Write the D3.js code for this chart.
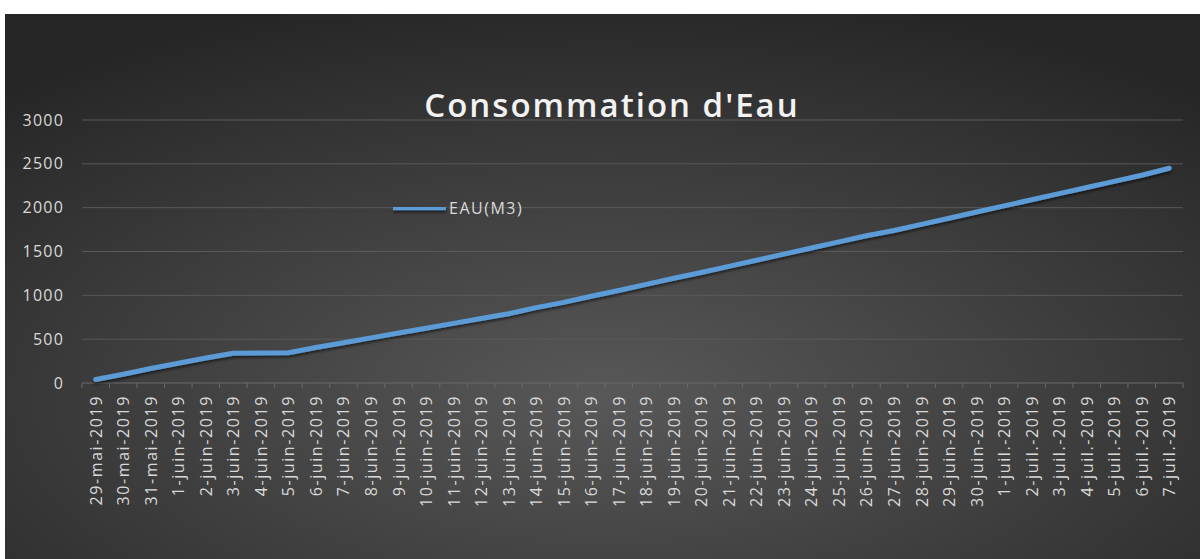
<!DOCTYPE html>
<html>
<head>
<meta charset="utf-8">
<script src="https://cdnjs.cloudflare.com/ajax/libs/d3/7.8.5/d3.min.js"></script>
<style>
  body { margin: 0; background: #fff; }
  svg { display: block; }
</style>
</head>
<body>
<div id="chart"></div>
<script>
let w = 1203,
    h = 559;

// categories (x axis)
let dates = [
  "29-mai-2019", "30-mai-2019", "31-mai-2019",
  "1-juin-2019", "2-juin-2019", "3-juin-2019", "4-juin-2019", "5-juin-2019",
  "6-juin-2019", "7-juin-2019", "8-juin-2019", "9-juin-2019", "10-juin-2019",
  "11-juin-2019", "12-juin-2019", "13-juin-2019", "14-juin-2019", "15-juin-2019",
  "16-juin-2019", "17-juin-2019", "18-juin-2019", "19-juin-2019", "20-juin-2019",
  "21-juin-2019", "22-juin-2019", "23-juin-2019", "24-juin-2019", "25-juin-2019",
  "26-juin-2019", "27-juin-2019", "28-juin-2019", "29-juin-2019", "30-juin-2019",
  "1-juil.-2019", "2-juil.-2019", "3-juil.-2019", "4-juil.-2019", "5-juil.-2019",
  "6-juil.-2019", "7-juil.-2019"
];

// EAU(M3) values
let eau = [
  40, 100, 165, 225, 285, 340, 342, 345, 405, 460,
  515, 570, 625, 680, 735, 790, 860, 920, 990, 1055,
  1125, 1195, 1260, 1330, 1400, 1470, 1540, 1610, 1680, 1740,
  1810, 1880, 1950, 2020, 2090, 2160, 2230, 2300, 2370, 2450
];

let yTicks = [0, 500, 1000, 1500, 2000, 2500, 3000];
let seriesName = "EAU(M3)";
let title = "Consommation d'Eau";

let margin = { top: 120, bottom: 176, left: 82, right: 20 };
let labelFont = "'Open Sans', sans-serif";

let svg = d3.select("#chart")
            .append("svg")
            .attr("width", w)
            .attr("height", h);

let defs = svg.append("defs");

let grad = defs.append("radialGradient")
               .attr("id", "bg")
               .attr("cx", "50%").attr("cy", "70%")
               .attr("r", "75%")
               .attr("fx", "50%").attr("fy", "70%");
grad.append("stop").attr("offset", "0%").attr("stop-color", "#585858");
grad.append("stop").attr("offset", "100%").attr("stop-color", "#262626");

let shadow = defs.append("filter")
                 .attr("id", "shadow")
                 .attr("filterUnits", "userSpaceOnUse")
                 .attr("x", 0).attr("y", 0)
                 .attr("width", w).attr("height", h);
shadow.append("feDropShadow")
      .attr("dx", 0).attr("dy", 2)
      .attr("stdDeviation", 1.5)
      .attr("flood-color", "#000")
      .attr("flood-opacity", 0.6);

// chart background (white margins around it like the original)
svg.append("rect")
   .attr("x", 5)
   .attr("y", 14)
   .attr("width", 1195)
   .attr("height", 545)
   .attr("fill", "url(#bg)");

let x = d3.scaleBand()
          .domain(dates)
          .range([margin.left, w - margin.right]);

let y = d3.scaleLinear()
          .domain([0, 3000])
          .range([h - margin.bottom, margin.top]);

// gridlines
svg.append("g")
   .selectAll("line")
   .data(yTicks.filter(d => d > 0))
   .enter()
   .append("line")
   .attr("x1", margin.left)
   .attr("x2", w - margin.right)
   .attr("y1", d => y(d))
   .attr("y2", d => y(d))
   .attr("stroke", "#5a5a5a")
   .attr("stroke-width", 1);

// y axis labels
let yAxis = d3.axisLeft(y)
              .tickValues(yTicks)
              .tickFormat(d3.format("d"))
              .tickSize(0)
              .tickPadding(18);

svg.append("g")
   .attr("transform", "translate(" + margin.left + ",0)")
   .call(yAxis)
   .call(g => g.select(".domain").remove())
   .selectAll("text")
   .attr("fill", "#d9d9d9")
   .style("font-family", labelFont)
   .style("font-size", "16px")
   .style("letter-spacing", "1.2px");

// x axis line + tick marks between categories
svg.append("line")
   .attr("x1", margin.left)
   .attr("x2", w - margin.right)
   .attr("y1", y(0))
   .attr("y2", y(0))
   .attr("stroke", "#6a6a6a")
   .attr("stroke-width", 1);

svg.append("g")
   .selectAll("line")
   .data(dates.concat(["end"]))
   .enter()
   .append("line")
   .attr("x1", (d, i) => margin.left + i * x.step())
   .attr("x2", (d, i) => margin.left + i * x.step())
   .attr("y1", y(0))
   .attr("y2", y(0) + 5)
   .attr("stroke", "#6a6a6a");

// x labels, rotated
svg.append("g")
   .selectAll("text")
   .data(dates)
   .enter()
   .append("text")
   .attr("transform", d => "translate(" + (x(d) + x.bandwidth() / 2 + 6) + "," + (y(0) + 12) + ") rotate(-90)")
   .attr("text-anchor", "end")
   .attr("fill", "#d9d9d9")
   .style("font-family", labelFont)
   .style("font-size", "16px")
   .style("letter-spacing", "1.6px")
   .text(d => d);

// the line
let line = d3.line()
             .x((d, i) => x(dates[i]) + x.bandwidth() / 2)
             .y(d => y(d));

svg.append("path")
   .datum(eau)
   .attr("d", line)
   .attr("fill", "none")
   .attr("stroke", "#5b9bd5")
   .attr("stroke-width", 5)
   .attr("stroke-linejoin", "round")
   .attr("stroke-linecap", "round")
   .attr("filter", "url(#shadow)");

// title
svg.append("text")
   .attr("x", 612)
   .attr("y", 117)
   .attr("text-anchor", "middle")
   .attr("fill", "#f2f2f2")
   .style("font-family", labelFont)
   .style("font-weight", "600")
   .style("font-size", "33px")
   .style("letter-spacing", "2px")
   .text(title);

// legend
let legend = svg.append("g")
                .attr("transform", "translate(393," + y(2000) + ")");

legend.append("line")
      .attr("x1", 0)
      .attr("x2", 53)
      .attr("y1", 0)
      .attr("y2", 0)
      .attr("stroke", "#5b9bd5")
      .attr("stroke-width", 5)
      .attr("filter", "url(#shadow)");

legend.append("text")
      .attr("x", 56)
      .attr("y", 6)
      .attr("fill", "#d9d9d9")
      .style("font-family", labelFont)
      .style("font-size", "16px")
      .style("letter-spacing", "1.5px")
      .text(seriesName);
</script>
</body>
</html>
